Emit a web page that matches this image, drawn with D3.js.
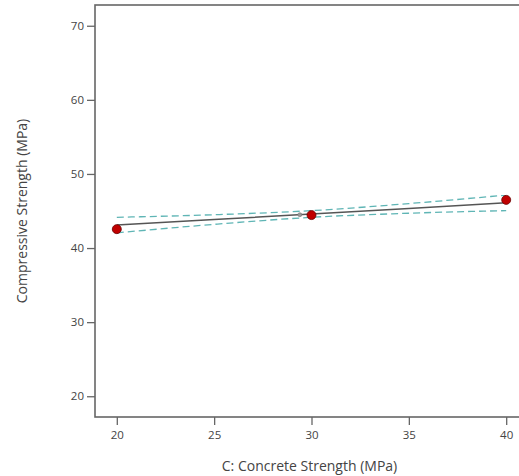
<!DOCTYPE html>
<html>
<head>
<meta charset="utf-8">
<script src="https://cdn.jsdelivr.net/npm/d3@7"></script>
<style>
  body { margin: 0; background: #fff; }
  text { font-family: "Open Sans", "Noto Sans", sans-serif; fill: #444; }
</style>
</head>
<body>
<div id="chart"></div>
<script>
  // values
  const xTicks = [20, 25, 30, 35, 40];
  const yTicks = [20, 30, 40, 50, 60, 70];
  const designX = [20, 30, 40];
  const designY = [42.55, 44.45, 46.5];
  const bandX = [20, 25, 30, 35, 40];
  const fitY = [43.1, 43.85, 44.6, 45.35, 46.1];
  const upperY = [44.15, 44.5, 45.05, 46.0, 47.15];
  const lowerY = [42.05, 43.2, 44.15, 44.7, 45.05];
  const markX = [29.4];
  const markY = [44.5];

  const width = 519, height = 476;
  const margin = { left: 95, top: 5 };
  const plotW = 433, plotH = 412;

  const svg = d3.select('#chart').append('svg')
    .attr('width', width)
    .attr('height', height);

  const x = d3.scaleLinear().domain([18.88, 41.12]).range([margin.left, margin.left + plotW]);
  const y = d3.scaleLinear().domain([17.2, 72.8]).range([margin.top + plotH, margin.top]);

  // frame
  svg.append('rect')
    .attr('x', margin.left)
    .attr('y', margin.top)
    .attr('width', plotW)
    .attr('height', plotH)
    .attr('fill', 'none')
    .attr('stroke', '#666')
    .attr('stroke-width', 1.6);

  // axes
  const yAxis = svg.append('g')
    .attr('transform', 'translate(' + margin.left + ',0)')
    .call(d3.axisLeft(y).tickValues(yTicks).tickSize(8).tickPadding(3));
  const xAxis = svg.append('g')
    .attr('transform', 'translate(0,' + (margin.top + plotH) + ')')
    .call(d3.axisBottom(x).tickValues(xTicks).tickSize(8).tickPadding(6));

  [xAxis, yAxis].forEach(function(g) {
    g.select('.domain').remove();
    g.selectAll('line').attr('stroke', '#666').attr('stroke-width', 1.3);
    g.selectAll('text').style('font-size', '11.5px').attr('fill', '#444');
  });

  const line = d3.line()
    .x(function(d) { return x(d[0]); })
    .y(function(d) { return y(d[1]); });

  // confidence band
  [upperY, lowerY].forEach(function(arr) {
    svg.append('path')
      .datum(d3.zip(bandX, arr))
      .attr('d', line.curve(d3.curveMonotoneX))
      .attr('fill', 'none')
      .attr('stroke', '#5fb5b5')
      .attr('stroke-width', 1.3)
      .attr('stroke-dasharray', '7,4');
  });

  // fitted line
  svg.append('path')
    .datum(d3.zip(bandX, fitY))
    .attr('d', line.curve(d3.curveLinear))
    .attr('fill', 'none')
    .attr('stroke', '#555')
    .attr('stroke-width', 1.5);

  // small grey marker
  svg.selectAll('.mark').data(d3.zip(markX, markY)).enter()
    .append('circle')
    .attr('class', 'mark')
    .attr('cx', function(d) { return x(d[0]); })
    .attr('cy', function(d) { return y(d[1]); })
    .attr('r', 2)
    .attr('fill', '#999')
    .attr('stroke', '#777')
    .attr('stroke-width', 0.6);

  // design points
  svg.selectAll('.pt').data(d3.zip(designX, designY)).enter()
    .append('circle')
    .attr('class', 'pt')
    .attr('cx', function(d) { return x(d[0]); })
    .attr('cy', function(d) { return y(d[1]); })
    .attr('r', 4.5)
    .attr('fill', '#c00000')
    .attr('stroke', '#6b0000')
    .attr('stroke-width', 0.8);

  // axis titles
  svg.append('text')
    .attr('x', margin.left + plotW / 2 - 2)
    .attr('y', 471)
    .attr('text-anchor', 'middle')
    .style('font-size', '14px')
    .text('C: Concrete Strength (MPa)');

  svg.append('text')
    .attr('transform', 'translate(27,' + (margin.top + plotH / 2) + ') rotate(-90)')
    .attr('text-anchor', 'middle')
    .style('font-size', '14px')
    .text('Compressive Strength (MPa)');
</script>
</body>
</html>
